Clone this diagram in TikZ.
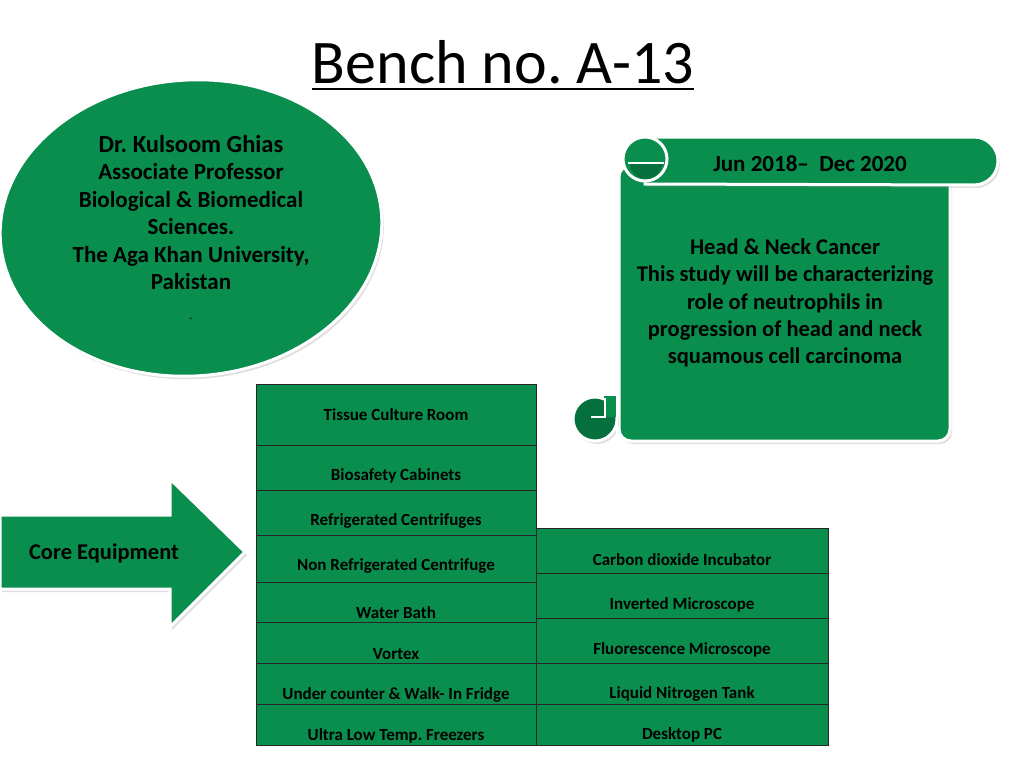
\documentclass[tikz,border=0pt]{standalone}
\usepackage{fontspec}
\setmainfont{Carlito}
\usetikzlibrary{shadows,shapes.geometric}
\definecolor{gr}{RGB}{10,142,78}
\definecolor{dgr}{RGB}{6,112,60}
\frenchspacing
\begin{document}
\begin{tikzpicture}[x=1pt,y=-1pt,
  shd/.style={drop shadow={opacity=0.25,shadow xshift=2pt,shadow yshift=-3pt}},
  wline/.style={draw=white,line width=3pt},
  cell/.style={draw=black!85,line width=1.2pt,fill=gr,anchor=north west,inner sep=0pt},
  ctxt/.style={font=\bfseries\fontsize{17}{20}\selectfont,inner sep=0pt},
  btxt/.style={font=\bfseries\fontsize{22.5}{27.4}\selectfont,align=center,inner sep=0pt}]
\useasboundingbox (0,0) rectangle (1024,768);

% title
\node[font=\fontsize{62}{70}\selectfont,anchor=base,inner sep=0pt] (title) at (503,83) {Bench no. A-13};
\draw[line width=2.5pt] ([yshift=-6pt]title.base west) -- ([yshift=-6pt]title.base east);

% ellipse
\node[ellipse,minimum width=382,minimum height=296,fill=gr,wline,shd,rotate=4] (pi) at (191,228) {};
\node[btxt,font=\bfseries\fontsize{23}{27.5}\selectfont,anchor=north] (pitxt) at (191,135)
 {{\fontsize{24.5}{27.5}\selectfont Dr. Kulsoom Ghias}\\Associate Professor\\Biological \& Biomedical\\Sciences.\\The Aga Khan University,\\Pakistan\\[2pt]{\fontsize{10}{10}\selectfont .}};

% scroll
\draw[fill=gr,wline,shd,rounded corners=12pt] (619,165) -- (950,165) -- (950,441) -- (619,441) -- cycle;
\draw[fill=gr,wline,shd] (645,137) -- (974,137) arc[start angle=-90,end angle=90,radius=24] -- (645,184) -- cycle;
\draw[fill=gr,wline] (645,159) circle[radius=22];
\fill[dgr] (630,163) -- (662,163) arc[start angle=0,end angle=180,radius=16] -- cycle;
\draw[white,line width=2.5pt] (628,163) -- (664,163);
\draw[fill=dgr,wline,shd] (595,419) circle[radius=22];
\fill[gr] (604,396) rectangle (617,417);
\draw[white,line width=2.5pt] (591,417) -- (605,417) -- (605,398);
\draw[white,line width=2.5pt] (617,396) -- (617,440);
\node[font=\bfseries\fontsize{23}{26}\selectfont,inner sep=0pt] (date) at (810,164) {Jun 2018–\ \ Dec 2020};
\node[btxt] (study) at (785,303) {Head \& Neck Cancer\\This study will be characterizing\\role of neutrophils in\\progression of head and neck\\squamous cell carcinoma};

% arrow
\draw[fill=gr,wline,shd] (0,515) -- (170,515) -- (170,479) -- (245,552) -- (170,627) -- (170,589) -- (0,589) -- cycle;
\node[font=\bfseries\fontsize{22.5}{26}\selectfont,inner sep=0pt] (core) at (104,553) {Core Equipment};

% right table
\foreach \a/\b/\t/\n in {528/573/560/Carbon dioxide Incubator,573/618/605/Inverted Microscope,618/663/650/Fluorescence Microscope,663/704/694/Liquid Nitrogen Tank,704/745/735/Desktop PC}{
  \node[cell,minimum width=292,minimum height=\b-\a] (r\a) at (536,\a) {};
  \node[ctxt] (rt\a) at (682,\t) {\n};
}
% left table
\foreach \a/\b/\t/\n in {384/445/415/Tissue Culture Room,445/490/476/Biosafety Cabinets,490/535/521/Refrigerated Centrifuges,535/582/566/Non Refrigerated Centrifuge,582/622/613/Water Bath,622/663/654/Vortex,663/704/695/Under counter \& Walk- In Fridge,704/745/736/Ultra Low Temp. Freezers}{
  \node[cell,minimum width=280,minimum height=\b-\a] (l\a) at (256,\a) {};
  \node[ctxt] (lt\a) at (396,\t) {\n};
}
\end{tikzpicture}
\end{document}
